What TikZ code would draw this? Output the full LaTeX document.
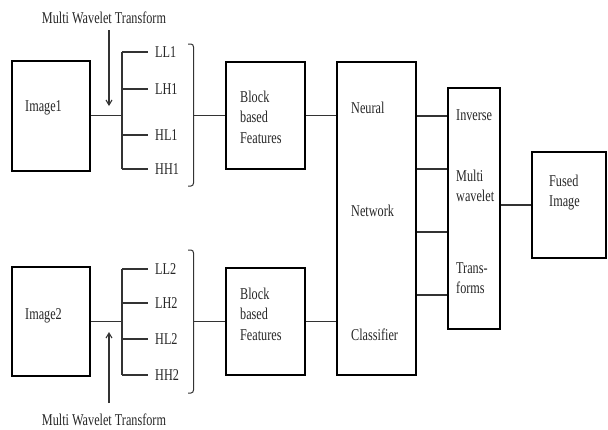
\documentclass[tikz,border=0pt]{standalone}
\usepackage{fontspec}
% narrow, tall serif lettering
\setmainfont{Liberation Serif}[FakeStretch=0.74]
\usetikzlibrary{arrows.meta}
\begin{document}
\begin{tikzpicture}[x=1pt,y=-1pt,
  box/.style={draw=black,line width=2.8pt,rectangle,inner sep=0pt},
  wire/.style={draw=black!80,line width=1.2pt},
  txt/.style={font=\fontsize{16.5}{20.5}\selectfont,text=black!85,inner sep=0pt,anchor=west,align=left},
  band/.style={txt},
  downarrow/.style={wire,-{Straight Barb[length=5pt,width=6pt,line width=1.1pt]}}]
\useasboundingbox (0,0) rectangle (608,429);

% main blocks
\node[box,minimum width=78pt,minimum height=110pt] (img1) at (51,116) {};
\node[box,minimum width=78pt,minimum height=109pt] (img2) at (51,321.5) {};
\node[box,minimum width=79pt,minimum height=107pt] (blk1) at (265.5,115.5) {};
\node[box,minimum width=79pt,minimum height=107pt] (blk2) at (265.5,321.5) {};
\node[box,minimum width=79pt,minimum height=313pt] (nn) at (376.5,218.5) {};
\node[box,minimum width=52pt,minimum height=241pt] (inv) at (474,208.5) {};
\node[box,minimum width=74pt,minimum height=106pt] (fused) at (569,205) {};

% block texts
\node[txt] (t-img1) at (25,108) {Image1};
\node[txt] (t-img2) at (25,316) {Image2};
\node[txt] (t-blk1) at (240,117) {Block\\based\\Features};
\node[txt] (t-blk2) at (240,314) {Block\\based\\Features};
\node[txt] (t-neural) at (351,108) {Neural};
\node[txt] (t-network) at (351,211) {Network};
\node[txt] (t-classifier) at (351,335) {Classifier};
\node[txt] (t-inverse) at (456,115) {Inverse};
\node[txt,font=\fontsize{16.5}{19.5}\selectfont] (t-multi) at (456,186) {Multi\\wavelet};
\node[txt,font=\fontsize{16.5}{19.5}\selectfont] (t-trans) at (456,278) {Trans-\\forms};
\node[txt] (t-fused) at (549,192.5) {Fused\\Image};

% transform captions and arrows
\node[txt,anchor=center] (cap1) at (104,18) {Multi Wavelet Transform};
\node[txt,anchor=center] (cap2) at (104,420) {Multi Wavelet Transform};
\coordinate (a1s) at (109,30);
\coordinate (a1e) at (109,106);
\coordinate (a2s) at (109,403);
\coordinate (a2e) at (109,332);
\draw[downarrow] (a1s) -- (a1e);
\draw[downarrow] (a2s) -- (a2e);

% sub-band splits of Image1
\coordinate (bus1) at (122,115.5);
\draw[wire] (img1.east |- bus1) -- (bus1);
\draw[wire] (122,52) -- (122,169);
\foreach \y/\lab/\nm in {52/LL1/ll1, 89/LH1/lh1, 135/HL1/hl1, 169/HH1/hh1}{
  \node[band] (\nm) at (155,\y) {\lab};
  \draw[wire] (122,\y) -- (\nm.west -| 148,\y);
}

% sub-band splits of Image2
\coordinate (bus2) at (122,321.5);
\draw[wire] (img2.east |- bus2) -- (bus2);
\draw[wire] (122,269) -- (122,375);
\foreach \y/\lab/\nm in {269/LL2/ll2, 303/LH2/lh2, 339/HL2/hl2, 375/HH2/hh2}{
  \node[band] (\nm) at (155,\y) {\lab};
  \draw[wire] (122,\y) -- (\nm.west -| 148,\y);
}

% closing brackets grouping the sub-bands
\draw[wire,line width=1pt] (188,44) -- (191,44) to[out=0,in=90] (193.5,47) -- (193.5,183) to[out=-90,in=0] (191,186) -- (188,186);
\draw[wire,line width=1pt] (188,250) -- (191,250) to[out=0,in=90] (193.5,253) -- (193.5,390) to[out=-90,in=0] (191,393) -- (188,393);
\coordinate (br1) at (193.5,115.5);
\coordinate (br2) at (193.5,321.5);
\draw[wire] (br1) -- (blk1.west |- br1);
\draw[wire] (br2) -- (blk2.west |- br2);

% features to classifier
\draw[wire] (blk1.east) -- (nn.west |- blk1.east);
\draw[wire] (blk2.east) -- (nn.west |- blk2.east);

% classifier to inverse transform
\foreach \y in {116,169,232,295}{
  \draw[wire] (nn.east |- 0,\y) -- (inv.west |- 0,\y);
}

% inverse transform to fused image
\draw[wire] (inv.east |- fused.west) -- (fused.west);
\end{tikzpicture}
\end{document}
